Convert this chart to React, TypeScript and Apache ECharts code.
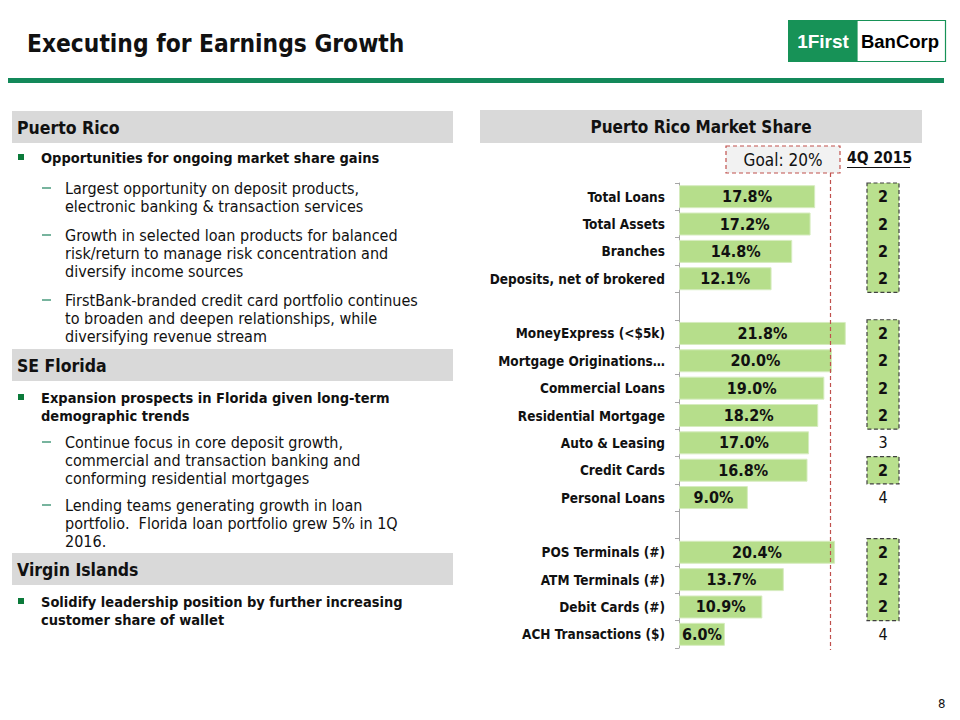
import React, { useEffect, useRef } from 'react';
import * as echarts from 'echarts';

const categories = [
  'Total Loans',
  'Total Assets',
  'Branches',
  'Deposits, net of brokered',
  ' ',
  'MoneyExpress (<$5k)',
  'Mortgage Originations…',
  'Commercial Loans',
  'Residential Mortgage',
  'Auto & Leasing',
  'Credit Cards',
  'Personal Loans',
  '  ',
  'POS Terminals (#)',
  'ATM Terminals (#)',
  'Debit Cards (#)',
  'ACH Transactions ($)',
];
const shareValues: (number | null)[] = [17.8, 17.2, 14.8, 12.1, null, 21.8, 20.0, 19.0, 18.2, 17.0, 16.8, 9.0, null, 20.4, 13.7, 10.9, 6.0];
const ranks = ['2', '2', '2', '2', '', '2', '2', '2', '2', '3', '2', '4', '', '2', '2', '2', '4'];
const rankHighlightGroups = [[0, 3], [5, 8], [10, 10], [13, 15]];
const GOAL = 20;
const rankHeader = '4Q 2015';

const FONT = '"DejaVu Sans Condensed", "DejaVu Sans", sans-serif';
const INK = '#111111';

const leftLines: { t: string; x: number; y: number; b?: boolean }[] = [
  { t: 'Opportunities for ongoing market share gains', x: 41, y: 158, b: true },
  { t: 'Largest opportunity on deposit products,', x: 65, y: 188 },
  { t: 'electronic banking & transaction services', x: 65, y: 206 },
  { t: 'Growth in selected loan products for balanced', x: 65, y: 235 },
  { t: 'risk/return to manage risk concentration and', x: 65, y: 253 },
  { t: 'diversify income sources', x: 65, y: 271 },
  { t: 'FirstBank-branded credit card portfolio continues', x: 65, y: 300 },
  { t: 'to broaden and deepen relationships, while', x: 65, y: 318 },
  { t: 'diversifying revenue stream', x: 65, y: 336 },
  { t: 'Expansion prospects in Florida given long-term', x: 41, y: 398, b: true },
  { t: 'demographic trends', x: 41, y: 416, b: true },
  { t: 'Continue focus in core deposit growth,', x: 65, y: 442 },
  { t: 'commercial and transaction banking and', x: 65, y: 460 },
  { t: 'conforming residential mortgages', x: 65, y: 478 },
  { t: 'Lending teams generating growth in loan', x: 65, y: 505 },
  { t: 'portfolio.  Florida loan portfolio grew 5% in 1Q', x: 65, y: 523 },
  { t: '2016.', x: 65, y: 541 },
  { t: 'Solidify leadership position by further increasing', x: 41, y: 602, b: true },
  { t: 'customer share of wallet', x: 41, y: 620, b: true },
];
const bulletYs = [158, 398, 602];
const dashYs = [188, 235, 300, 442, 505];
const sectionBoxes = [
  { t: 'Puerto Rico', y: 111 },
  { t: 'SE Florida', y: 349 },
  { t: 'Virgin Islands', y: 553 },
];

export default function App() {
  const ref = useRef<HTMLDivElement>(null);
  useEffect(() => {
    document.body.style.margin = '0';
    const chart = echarts.init(ref.current!, null, { renderer: 'svg' });

    const graphic: any[] = [];
    // title
    graphic.push({ type: 'text', x: 27, y: 43, style: { text: 'Executing for Earnings Growth', fill: INK, font: `bold 24.3px ${FONT}`, textVerticalAlign: 'middle' } });
    graphic.push({ type: 'rect', shape: { x: 8, y: 78, width: 936, height: 5 }, style: { fill: '#13895a' } });
    // logo
    graphic.push({ type: 'rect', shape: { x: 788, y: 20, width: 69, height: 42 }, style: { fill: '#179257' } });
    graphic.push({ type: 'rect', shape: { x: 857, y: 20.5, width: 88.5, height: 41 }, style: { fill: '#ffffff', stroke: '#179257', lineWidth: 1.2 } });
    graphic.push({ type: 'text', x: 823, y: 41, style: { text: '1First', fill: '#ffffff', font: `bold 19px "Liberation Sans", sans-serif`, textAlign: 'center', textVerticalAlign: 'middle' } });
    graphic.push({ type: 'text', x: 900, y: 41, style: { text: 'BanCorp', fill: '#000000', font: `bold 18.5px "Liberation Sans", sans-serif`, textAlign: 'center', textVerticalAlign: 'middle' } });
    // section boxes
    sectionBoxes.forEach((s) => {
      graphic.push({ type: 'rect', shape: { x: 12, y: s.y, width: 441, height: 32 }, style: { fill: '#d9d9d9' } });
      graphic.push({ type: 'text', x: 17, y: s.y + 17, style: { text: s.t, fill: INK, font: `bold 17.5px ${FONT}`, textVerticalAlign: 'middle' } });
    });
    bulletYs.forEach((y) => {
      graphic.push({ type: 'rect', shape: { x: 18, y: y - 4, width: 6, height: 6 }, style: { fill: '#0b7a3a' } });
    });
    dashYs.forEach((y) => {
      graphic.push({ type: 'line', shape: { x1: 42, y1: y, x2: 51, y2: y }, style: { stroke: '#2e8b6a', lineWidth: 1.3 } });
    });
    leftLines.forEach((l) => {
      graphic.push({ type: 'text', x: l.x, y: l.y, style: { text: l.t, fill: INK, font: `${l.b ? 'bold 14.5px' : '16px'} ${FONT}`, textVerticalAlign: 'middle' } });
    });
    // right header
    graphic.push({ type: 'rect', shape: { x: 480, y: 110, width: 442, height: 33 }, style: { fill: '#d9d9d9' } });
    graphic.push({ type: 'text', x: 701, y: 127, style: { text: 'Puerto Rico Market Share', fill: INK, font: `bold 17px ${FONT}`, textAlign: 'center', textVerticalAlign: 'middle' } });
    // goal box
    graphic.push({ type: 'rect', shape: { x: 726, y: 146, width: 114, height: 27 }, style: { fill: '#f2f2f2', stroke: '#c0504d', lineWidth: 1.2, lineDash: [4, 3] } });
    graphic.push({ type: 'text', x: 783, y: 160, style: { text: `Goal: ${GOAL}%`, fill: INK, font: `17px ${FONT}`, textAlign: 'center', textVerticalAlign: 'middle' } });
    // rank header
    graphic.push({ type: 'text', x: 847, y: 158, style: { text: rankHeader, fill: INK, font: `bold 15.5px ${FONT}`, textVerticalAlign: 'middle' } });
    graphic.push({ type: 'line', shape: { x1: 847, y1: 167.5, x2: 910, y2: 167.5 }, style: { stroke: INK, lineWidth: 1.2 } });
    // page number
    graphic.push({ type: 'text', x: 938, y: 703, style: { text: '8', fill: INK, font: `13px ${FONT}`, textVerticalAlign: 'middle' } });

    const RANK_X = 883;

    const option: any = {
      animation: false,
      backgroundColor: '#ffffff',
      grid: { left: 679, top: 183, height: 465, width: 229.5, containLabel: false, outerBoundsMode: 'none' },
      xAxis: { type: 'value', min: 0, max: 30, show: false },
      yAxis: {
        type: 'category',
        data: categories,
        inverse: true,
        axisLine: { show: true, lineStyle: { color: '#a6a6a6', width: 1 } },
        axisTick: { show: true, length: 4, lineStyle: { color: '#a6a6a6' } },
        axisLabel: { fontFamily: FONT, fontWeight: 'bold', fontSize: 13.5, color: INK, margin: 14 },
        splitLine: { show: false },
      },
      series: [
        {
          type: 'bar',
          data: shareValues,
          barWidth: 23,
          itemStyle: { color: '#b6de8b', borderColor: '#d6ecbf', borderWidth: 1 },
          label: {
            show: true,
            position: 'inside',
            formatter: (p: any) => `${Number(p.value).toFixed(1)}%`,
            fontFamily: FONT,
            fontWeight: 'bold',
            fontSize: 16,
            color: INK,
          },
        },
        {
          type: 'custom',
          data: [[GOAL]],
          encode: { x: 0 },
          clip: false,
          z: 5,
          renderItem: (params: any, api: any) => {
            const x = api.coord([api.value(0), 0])[0];
            return {
              type: 'line',
              shape: { x1: x - 1.5, y1: 173, x2: x - 1.5, y2: 650 },
              style: { stroke: '#c0504d', lineWidth: 1.2, lineDash: [4, 3] },
            };
          },
        },
        {
          type: 'custom',
          data: rankHighlightGroups,
          encode: { x: -1, y: [0, 1] },
          clip: false,
          z: 3,
          renderItem: (params: any, api: any) => {
            const band = api.size([0, 1])[1];
            const y0 = api.coord([0, api.value(0)])[1] - band / 2;
            const y1 = api.coord([0, api.value(1)])[1] + band / 2;
            return {
              type: 'rect',
              shape: { x: RANK_X - 16, y: y0, width: 32, height: y1 - y0 },
              style: { fill: '#b9e08e', stroke: '#404040', lineWidth: 1.2, lineDash: [4, 2.5] },
            };
          },
        },
        {
          type: 'custom',
          data: ranks.map((r, i) => [i, r]).filter((d) => d[1] !== ''),
          encode: { x: -1, y: 0 },
          clip: false,
          z: 6,
          renderItem: (params: any, api: any) => {
            const idx = api.value(0);
            const y = api.coord([0, idx])[1];
            const txt = ranks[idx];
            return {
              type: 'text',
              x: RANK_X,
              y: y,
              style: {
                text: txt,
                fill: INK,
                font: `${txt === '2' ? 'bold ' : ''}16px ${FONT}`,
                textAlign: 'center',
                textVerticalAlign: 'middle',
              },
            };
          },
        },
      ],
      graphic: { elements: graphic },
    };
    chart.setOption(option);
    return () => chart.dispose();
  }, []);
  return <div ref={ref} style={{ width: 960, height: 720 }} />;
}
